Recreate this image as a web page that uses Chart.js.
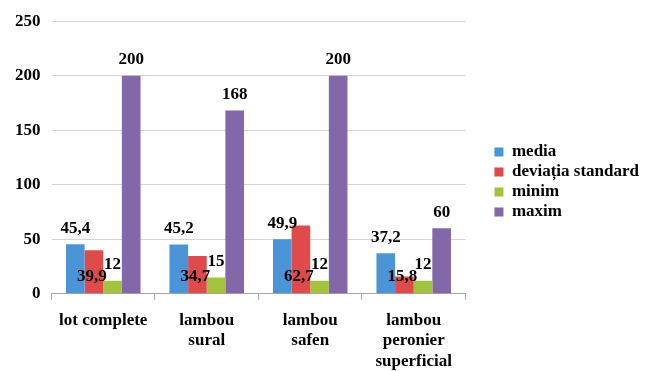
<!DOCTYPE html>
<html>
<head>
<meta charset="utf-8">
<script src="https://cdn.jsdelivr.net/npm/chart.js@4/dist/chart.umd.min.js"></script>
<style>
  html, body { margin: 0; padding: 0; background: #fff; }
  #wrap { width: 645px; height: 371px; }
</style>
</head>
<body>
<div id="wrap"><canvas id="chart"></canvas></div>
<script>
const categories = [
    ['lot complete'],
    ['lambou', 'sural'],
    ['lambou', 'safen'],
    ['lambou', 'peronier', 'superficial'],
];
const seriesNames = ['media', 'deviația standard', 'minim', 'maxim'];
const media = [45.4, 45.2, 49.9, 37.2];
const deviatie = [39.9, 34.7, 62.7, 15.8];
const minim = [12, 15, 12, 12];
const maxim = [200, 168, 200, 60];
const yTicks = [0, 50, 100, 150, 200, 250];

const colors = ['#4a94d7', '#df4b4b', '#a3c33e', '#8267a9'];
const serif = "'Liberation Serif', 'Times New Roman', serif";

// value labels: deviation sits near the base, the others above their bars
const valueLabels = {
    id: 'valueLabels',
    afterDatasetsDraw(chart) {
        const ctx = chart.ctx;
        ctx.save();
        ctx.font = `bold 17px ${serif}`;
        ctx.fillStyle = '#000';
        ctx.textAlign = 'center';
        ctx.textBaseline = 'middle';
        chart.data.datasets.forEach((ds, di) => {
            const meta = chart.getDatasetMeta(di);
            meta.data.forEach((bar, i) => {
                const text = String(ds.data[i]).replace('.', ',');
                if (di === 1) {
                    ctx.fillText(text, bar.x - 2, bar.base - 17);
                } else {
                    ctx.fillText(text, bar.x, bar.y - 16);
                }
            });
        });
        ctx.restore();
    }
};

// leave a gap between the plot and the legend, and lift the legend a bit
const LEGEND_GAP = 22;
const LEGEND_SHIFT = 26;
const legendGap = {
    id: 'legendGap',
    beforeLayout(chart) {
        const lg = chart.legend;
        if (lg && !lg._gapPatched) {
            const fit = lg.fit;
            lg.fit = function () {
                fit.call(this);
                this.width += LEGEND_GAP;
            };
            lg._gapPatched = true;
        }
    },
    afterLayout(chart) {
        const lg = chart.legend;
        lg.left += LEGEND_SHIFT;
        lg.top = 0;
        lg.bottom = chart.height - 7;
    },
};

new Chart(document.getElementById('chart'), {
    type: 'bar',
    data: {
        labels: categories,
        datasets: [media, deviatie, minim, maxim].map((data, i) => ({
            label: seriesNames[i],
            data,
            backgroundColor: colors[i],
            borderWidth: 0,
            categoryPercentage: 0.72,
            barPercentage: 1,
        })),
    },
    options: {
        responsive: true,
        maintainAspectRatio: false,
        animation: false,
        layout: {
            padding: { top: 12, right: 0, bottom: -11, left: 4 },
        },
        scales: {
            x: {
                grid: {
                    drawOnChartArea: false,
                    drawTicks: true,
                    tickLength: 6,
                    color: '#a6a6a6',
                },
                border: { color: '#a6a6a6' },
                ticks: {
                    color: '#000',
                    padding: 10,
                    font: { family: serif, size: 17, weight: 'bold', lineHeight: 1.22 },
                    maxRotation: 0,
                    autoSkip: false,
                },
            },
            y: {
                min: 0,
                max: 250,
                afterBuildTicks: (scale) => {
                    scale.ticks = yTicks.map((v) => ({ value: v }));
                },
                grid: { color: '#d4d4d4', drawTicks: false },
                border: { display: false },
                ticks: {
                    color: '#000',
                    padding: 11,
                    font: { family: serif, size: 17, weight: 'bold' },
                },
            },
        },
        plugins: {
            legend: {
                position: 'right',
                labels: {
                    boxWidth: 9,
                    boxHeight: 9,
                    padding: 3,
                    color: '#000',
                    font: { family: serif, size: 17, weight: 'bold' },
                },
            },
            tooltip: { enabled: false },
        },
    },
    plugins: [valueLabels, legendGap],
});
</script>
</body>
</html>
